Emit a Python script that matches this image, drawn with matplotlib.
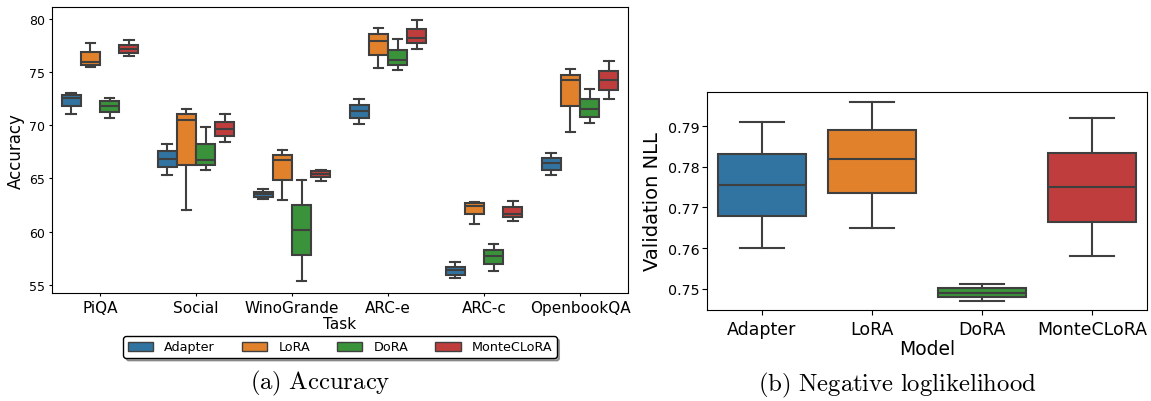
import matplotlib.pyplot as plt
from matplotlib.patches import Patch

plt.rcParams['mathtext.fontset'] = 'cm'

tasks = ['PiQA', 'Social', 'WinoGrande', 'ARC-e', 'ARC-c', 'OpenbookQA']
methods = ['Adapter', 'LoRA', 'DoRA', 'MonteCLoRA']
colors = ['#3274a1', '#e1812c', '#3a923a', '#c03d3e']

# accuracy per task: [whisker low, q1, median, q3, whisker high]
adapter_acc = [[71.1, 71.85, 72.6, 72.86, 73.0],
               [65.37, 66.09, 66.81, 67.56, 68.28],
               [63.05, 63.27, 63.55, 63.77, 64.05],
               [70.1, 70.72, 71.32, 71.89, 72.48],
               [55.63, 55.97, 56.38, 56.72, 57.13],
               [65.31, 65.84, 66.5, 66.94, 67.41]]
lora_acc = [[75.43, 75.65, 75.93, 76.87, 77.7],
            [62.02, 66.31, 70.51, 71.01, 71.57],
            [62.99, 64.84, 66.72, 67.25, 67.72],
            [75.33, 76.62, 77.93, 78.56, 79.15],
            [60.77, 61.64, 62.46, 62.68, 62.83],
            [69.41, 71.82, 74.24, 74.71, 75.24]]
dora_acc = [[70.66, 71.23, 71.85, 72.26, 72.6],
            [65.81, 66.31, 66.75, 68.25, 69.82],
            [55.41, 57.82, 60.2, 62.52, 64.9],
            [75.14, 75.61, 76.08, 77.02, 78.06],
            [56.32, 56.97, 57.73, 58.29, 58.82],
            [70.23, 70.82, 71.51, 72.45, 73.42]]
montec_acc = [[76.49, 76.77, 77.15, 77.56, 77.99],
              [68.47, 69.03, 69.66, 70.35, 71.04],
              [64.74, 65.15, 65.46, 65.71, 65.84],
              [77.18, 77.68, 78.21, 79.03, 79.9],
              [61.05, 61.36, 61.67, 62.33, 62.93],
              [72.49, 73.33, 74.24, 75.11, 76.05]]

# validation NLL per model: [whisker low, q1, median, q3, whisker high]
nll = [[0.7600, 0.7678, 0.7755, 0.7833, 0.7911],
       [0.7650, 0.7735, 0.7820, 0.7890, 0.7961],
       [0.7470, 0.7479, 0.7490, 0.7501, 0.7510],
       [0.7580, 0.7665, 0.7751, 0.7835, 0.7921]]


def to_stats(v):
    return dict(whislo=v[0], q1=v[1], med=v[2], q3=v[3], whishi=v[4], fliers=[])


line = dict(color='#3f3f3f', linewidth=1.5)

fig = plt.figure(figsize=(11.51, 4.02), dpi=100)
W, H = 1151, 402
ax1 = fig.add_axes([52 / W, 1 - 294 / H, 576 / W, 286 / H])
ax2 = fig.add_axes([707 / W, 1 - 311 / H, 440 / W, 218 / H])

all_acc = [adapter_acc, lora_acc, dora_acc, montec_acc]
for j, acc in enumerate(all_acc):
    pos = [i - 0.3 + 0.2 * j for i in range(len(tasks))]
    ax1.bxp([to_stats(v) for v in acc], positions=pos, widths=0.2,
            patch_artist=True, showfliers=False,
            boxprops=dict(facecolor=colors[j], edgecolor='#3f3f3f', linewidth=1.5),
            whiskerprops=line, capprops=line, medianprops=line)
ax1.set_xlim(-0.5, 5.5)
ax1.set_ylim(54.25, 81.1)
ax1.set_xticks(range(len(tasks)))
ax1.set_xticklabels(tasks, fontsize=11)
ax1.set_yticks([55, 60, 65, 70, 75, 80])
ax1.tick_params(length=2.4, pad=2.5)
ax1.tick_params(axis='y', labelsize=9)
ax1.set_xlabel('Task', fontsize=11, labelpad=1)
ax1.set_ylabel('Accuracy', fontsize=12, labelpad=3)

for j in range(len(methods)):
    ax2.bxp([to_stats(nll[j])], positions=[j], widths=0.8,
            patch_artist=True, showfliers=False,
            boxprops=dict(facecolor=colors[j], edgecolor='#3f3f3f', linewidth=1.5),
            whiskerprops=line, capprops=line, medianprops=line)
ax2.set_xlim(-0.5, 3.5)
ax2.set_ylim(0.7447, 0.7985)
ax2.set_xticks(range(len(methods)))
ax2.set_xticklabels(methods, fontsize=12.5)
ax2.set_yticks([0.75, 0.76, 0.77, 0.78, 0.79])
ax2.tick_params(axis='y', labelsize=10.3, pad=2)
ax2.set_xlabel('Model', fontsize=13.5, labelpad=1)
ax2.set_ylabel('Validation NLL', fontsize=14, labelpad=4)

handles = [Patch(facecolor=c, edgecolor='#3f3f3f', label=m) for c, m in zip(colors, methods)]
fig.legend(handles=handles, ncol=4, loc='center', bbox_to_anchor=(340 / W, 1 - 348 / H),
           fontsize=9.2, handlelength=2.0, handletextpad=0.85, columnspacing=2.1,
           frameon=True, edgecolor='black', fancybox=True, shadow=True,
           borderpad=0.35, framealpha=1)

fig.text(320 / W, 1 - 383 / H, r'$\mathrm{(a)\ Accuracy}$', ha='center', va='center', fontsize=17.8)
fig.text(897 / W, 1 - 385 / H, r'$\mathrm{(b)\ Negative\ loglikelihood}$', ha='center', va='center', fontsize=17.8)

fig.savefig('out.png', dpi=100)
